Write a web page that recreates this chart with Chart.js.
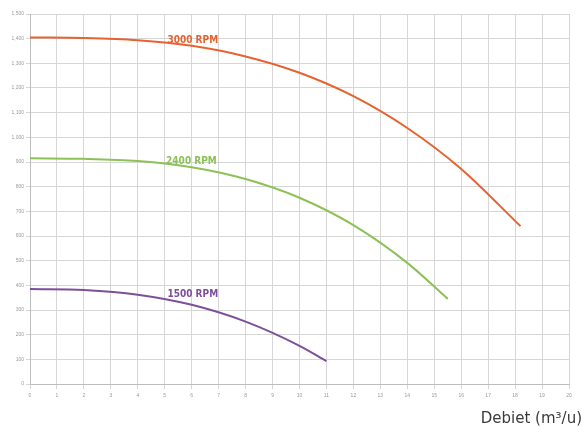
<!DOCTYPE html>
<html>
<head>
<meta charset="utf-8">
<script src="https://cdn.jsdelivr.net/npm/chart.js@4"></script>
<style>
  html, body { margin: 0; padding: 0; background: #fff; }
  #wrap { width: 582px; height: 428px; }
</style>
</head>
<body>
<div id="wrap"><canvas id="pumpChart"></canvas></div>
<script>
// pump curves (flow in m3/u, head)
const flow3000 = [0, 2, 4, 6, 8, 10, 12, 14, 16, 18.2];
const head3000 = [1405, 1403, 1394, 1371, 1328, 1262, 1167, 1038, 872, 640];

const flow2400 = [0, 2, 4, 6, 8, 10, 12, 14, 15.5];
const head2400 = [915, 913, 904, 879, 831, 755, 644, 491, 345];

const flow1500 = [0, 2, 4, 6, 8, 10, 11];
const head1500 = [385, 381, 362, 321, 253, 155, 93];

const seriesNames = ['3000 RPM', '2400 RPM', '1500 RPM'];
const seriesColors = ['#e6622f', '#8cc156', '#7d4f9b'];
// where the curve names sit (data coords)
const labelFlow = [5.1, 5.05, 5.1];
const labelHead = [1394, 904, 365];

const xTicks = [0, 20, 1];   // min, max, step
const yTicks = [0, 1500, 100];

function pts(xs, ys) {
    return xs.map((x, i) => ({ x: x, y: ys[i] }));
}

const curveLabels = {
    id: 'curveLabels',
    afterDatasetsDraw(chart) {
        const ctx = chart.ctx;
        const xs = chart.scales.x, ys = chart.scales.y;
        ctx.save();
        ctx.font = 'bold 10px "DejaVu Sans Condensed", "DejaVu Sans", sans-serif';
        ctx.textBaseline = 'middle';
        ctx.textAlign = 'left';
        seriesNames.forEach((name, i) => {
            ctx.fillStyle = seriesColors[i];
            ctx.fillText(name, xs.getPixelForValue(labelFlow[i]), ys.getPixelForValue(labelHead[i]));
        });
        // axis title, bottom right
        ctx.font = '15px "DejaVu Sans", sans-serif';
        ctx.fillStyle = '#3a3a3a';
        ctx.textAlign = 'right';
        ctx.textBaseline = 'alphabetic';
        ctx.fillText('Debiet (m³/u)', chart.width, 423);
        ctx.restore();
    }
};

const ctx = document.getElementById('pumpChart').getContext('2d');
new Chart(ctx, {
    type: 'line',
    data: {
        datasets: [
            { label: seriesNames[0], data: pts(flow3000, head3000), borderColor: seriesColors[0] },
            { label: seriesNames[1], data: pts(flow2400, head2400), borderColor: seriesColors[1] },
            { label: seriesNames[2], data: pts(flow1500, head1500), borderColor: seriesColors[2] }
        ].map(d => Object.assign(d, {
            borderWidth: 2,
            pointRadius: 0,
            fill: false,
            cubicInterpolationMode: 'monotone'
        }))
    },
    options: {
        responsive: true,
        maintainAspectRatio: false,
        animation: false,
        layout: { padding: { top: 14, right: 13, left: 0, bottom: 0 } },
        plugins: {
            legend: { display: false },
            tooltip: { enabled: false }
        },
        scales: {
            x: {
                type: 'linear',
                min: xTicks[0], max: xTicks[1],
                ticks: { stepSize: xTicks[2], color: '#9a9a9a', font: { size: 5 }, padding: 4, maxRotation: 0 },
                grid: { color: '#d6d6d6', tickLength: 5 },
                border: { color: '#bdbdbd' },
                afterFit: s => { s.height = 44; }
            },
            y: {
                min: yTicks[0], max: yTicks[1],
                ticks: { stepSize: yTicks[2], color: '#9a9a9a', font: { size: 5 }, padding: 2 },
                grid: { color: '#d6d6d6', tickLength: 4 },
                border: { color: '#bdbdbd' },
                afterFit: s => { s.width = 30; }
            }
        }
    },
    plugins: [curveLabels]
});
</script>
</body>
</html>
